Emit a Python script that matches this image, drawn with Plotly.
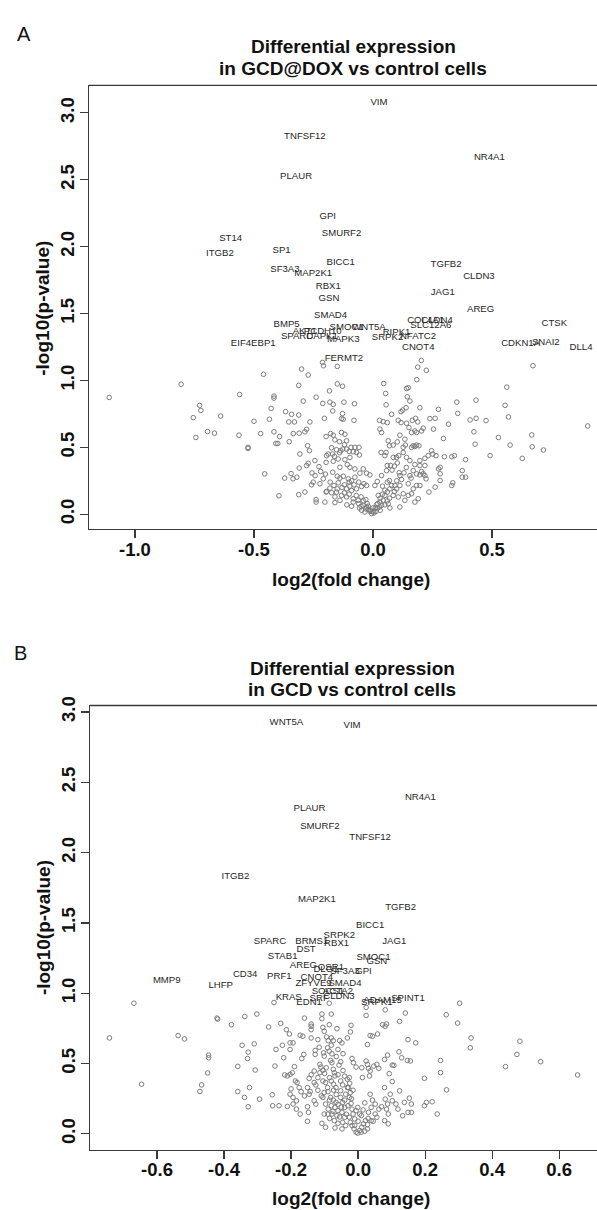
import plotly.graph_objects as go

# ---------------- Panel A data (log2 fold change, -log10 p) ----------------
A_points = [
    (0.203, 1.150), (0.188, 1.100), (0.224, 1.076), (0.184, 1.006), (-0.212, 1.135),
    (-0.208, 1.110), (-0.150, 1.105), (0.672, 1.110), (-0.460, 1.046), (-0.272, 1.041),
    (-0.300, 1.085), (-0.806, 0.972), (0.045, 0.977), (-0.312, 0.963), (-0.150, 0.974),
    (-0.128, 0.957), (-1.108, 0.873), (-0.560, 0.895), (-0.416, 0.883), (-0.416, 0.868),
    (-0.728, 0.814), (-0.723, 0.776), (-0.428, 0.791), (-0.755, 0.722), (-0.640, 0.734),
    (-0.500, 0.695), (-0.435, 0.710), (-0.367, 0.767), (-0.342, 0.747), (-0.354, 0.690),
    (-0.330, 0.690), (-0.312, 0.742), (-0.695, 0.618), (-0.666, 0.606), (-0.744, 0.574),
    (-0.563, 0.591), (-0.472, 0.603), (-0.416, 0.616), (-0.392, 0.581), (-0.408, 0.529),
    (-0.400, 0.529), (-0.352, 0.542), (-0.335, 0.603), (-0.525, 0.500), (-0.525, 0.492),
    (-0.455, 0.302), (-0.395, 0.138), (-0.336, 0.265), (-0.320, 0.277), (-0.371, 0.270),
    (-0.344, 0.304), (-0.312, 0.146), (-0.307, 0.450), (-0.310, 0.606), (-0.310, 0.345),
    (-0.183, 0.922), (0.141, 0.940), (0.148, 0.945), (0.562, 0.950),
    (-0.293, 0.846), (-0.239, 0.875), (-0.211, 0.828), (-0.181, 0.838), (-0.167, 0.821),
    (-0.122, 0.838), (-0.078, 0.826), (0.053, 0.903), (0.055, 0.818), (-0.169, 0.772),
    (0.144, 0.878), (0.155, 0.846), (0.125, 0.779), (0.118, 0.767), (0.139, 0.796),
    (0.197, 0.796), (0.275, 0.784), (0.352, 0.838), (0.433, 0.853), (0.555, 0.814),
    (0.902, 0.660), (-0.132, 0.715), (-0.125, 0.710), (-0.080, 0.702), (-0.204, 0.717),
    (-0.265, 0.690), (-0.128, 0.752), (0.027, 0.702), (0.043, 0.692), (0.060, 0.685),
    (0.078, 0.747), (0.106, 0.702), (0.118, 0.685), (0.141, 0.680), (0.151, 0.648),
    (0.165, 0.702), (0.179, 0.717), (0.188, 0.690), (0.211, 0.643), (0.239, 0.715),
    (0.261, 0.717), (0.317, 0.673), (0.356, 0.754), (0.408, 0.705), (0.433, 0.717),
    (0.424, 0.616), (0.429, 0.524), (0.475, 0.700), (0.527, 0.574), (0.569, 0.727),
    (0.576, 0.517), (0.667, 0.593), (0.669, 0.504), (0.716, 0.480), (0.627, 0.418),
    (0.492, 0.438), (-0.275, 0.512), (-0.267, 0.475), (-0.256, 0.309), (-0.243, 0.289),
    (-0.279, 0.635), (-0.286, 0.616), (-0.197, 0.581), (-0.178, 0.603), (-0.167, 0.591),
    (-0.132, 0.611), (-0.118, 0.598), (-0.160, 0.556), (-0.141, 0.542), (-0.111, 0.549),
    (-0.127, 0.487), (-0.111, 0.487), (-0.092, 0.500), (-0.076, 0.500), (-0.059, 0.500),
    (-0.083, 0.467), (-0.069, 0.462), (-0.057, 0.443), (-0.136, 0.475), (-0.153, 0.482),
    (-0.174, 0.497), (-0.188, 0.450), (-0.195, 0.438), (-0.162, 0.433), (-0.146, 0.413),
    (-0.118, 0.408), (-0.097, 0.425), (-0.167, 0.396), (-0.197, 0.388), (-0.244, 0.401),
    (-0.227, 0.356), (-0.279, 0.364), (-0.272, 0.381), (-0.108, 0.371), (-0.097, 0.351),
    (-0.139, 0.351), (-0.076, 0.339), (-0.041, 0.339), (-0.027, 0.307), (-0.013, 0.294),
    (-0.055, 0.307), (-0.169, 0.314), (-0.150, 0.284), (-0.139, 0.270), (-0.125, 0.284),
    (-0.104, 0.265), (-0.076, 0.277), (-0.038, 0.228), (-0.027, 0.215), (-0.048, 0.208),
    (-0.069, 0.190), (-0.097, 0.210), (-0.111, 0.190), (-0.090, 0.178), (-0.181, 0.195),
    (-0.164, 0.215), (-0.146, 0.235), (-0.195, 0.171), (-0.174, 0.161), (-0.153, 0.166),
    (-0.132, 0.141), (-0.111, 0.129), (-0.083, 0.116), (-0.062, 0.104), (-0.083, 0.091),
    (-0.139, 0.104), (-0.160, 0.087), (-0.202, 0.091), (-0.197, 0.166), (-0.239, 0.109),
    (-0.239, 0.091), (-0.223, 0.228), (-0.209, 0.265), (-0.251, 0.240), (-0.258, 0.220),
    (-0.286, 0.166), (-0.048, 0.030), (-0.034, 0.017), (-0.020, 0.037), (-0.013, 0.022),
    (-0.006, 0.005), (0.004, 0.010), (0.013, 0.022), (0.018, 0.042), (0.027, 0.054),
    (0.036, 0.067), (0.029, 0.091), (0.043, 0.104), (0.015, 0.072), (-0.001, 0.047),
    (-0.027, 0.054), (-0.041, 0.067), (-0.057, 0.047), (-0.024, 0.079), (0.050, 0.141),
    (0.060, 0.166), (0.071, 0.190), (0.060, 0.240), (0.069, 0.252), (0.078, 0.215),
    (0.092, 0.215), (0.099, 0.190), (0.113, 0.215), (0.085, 0.141), (0.106, 0.129),
    (0.127, 0.153), (0.148, 0.141), (0.162, 0.153), (0.169, 0.190), (0.183, 0.215),
    (0.197, 0.215), (0.190, 0.116), (0.176, 0.091), (0.134, 0.104), (0.113, 0.054),
    (0.071, 0.047), (0.064, 0.079), (0.022, 0.141), (0.008, 0.215), (0.018, 0.245),
    (0.036, 0.289), (0.057, 0.326), (0.074, 0.364), (0.102, 0.383), (0.060, 0.364),
    (0.085, 0.425), (0.050, 0.438), (0.034, 0.462), (0.141, 0.425), (0.155, 0.401),
    (0.176, 0.371), (0.197, 0.364), (0.218, 0.364), (0.211, 0.302), (0.218, 0.289),
    (0.223, 0.265), (0.204, 0.319), (0.235, 0.166), (0.261, 0.203), (0.275, 0.339),
    (0.282, 0.302), (0.282, 0.252), (0.296, 0.566), (0.254, 0.636), (0.183, 0.517),
    (0.176, 0.507), (0.193, 0.512), (0.246, 0.475), (0.265, 0.438), (0.251, 0.450),
    (0.232, 0.438), (0.218, 0.418), (0.197, 0.401), (0.300, 0.430), (0.331, 0.430),
    (0.342, 0.438), (0.331, 0.215), (0.335, 0.235), (0.375, 0.326), (0.375, 0.277),
    (0.389, 0.277), (0.389, 0.408), (0.282, 0.351), (0.113, 0.289), (0.155, 0.289),
    (0.183, 0.302), (0.197, 0.294), (0.148, 0.228), (0.169, 0.326), (0.029, 0.636),
    (0.036, 0.611), (0.064, 0.549), (0.069, 0.512), (0.085, 0.517), (0.102, 0.541),
    (0.113, 0.591), (0.134, 0.561), (0.055, 0.462), (0.099, 0.425), (0.108, 0.438),
    (0.127, 0.500), (0.136, 0.517), (0.127, 0.462), (0.162, 0.500), (0.169, 0.512),
    (0.162, 0.611), (0.176, 0.623), (0.183, 0.611), (0.204, 0.623),
    (-0.100, 0.240), (-0.090, 0.250), (-0.120, 0.220), (-0.130, 0.200), (-0.150, 0.190),
    (-0.160, 0.130), (-0.120, 0.160), (-0.100, 0.150), (-0.070, 0.140), (-0.050, 0.130),
    (-0.040, 0.100), (-0.030, 0.110), (-0.060, 0.080), (-0.050, 0.060), (-0.030, 0.040),
    (-0.020, 0.060), (-0.010, 0.030), (0.000, 0.020), (0.010, 0.050), (0.020, 0.080),
    (0.030, 0.120), (0.040, 0.150), (0.050, 0.180), (0.040, 0.210), (0.030, 0.030),
    (0.050, 0.070), (0.060, 0.100), (0.070, 0.120), (0.090, 0.170), (0.100, 0.250),
    (0.120, 0.260), (0.130, 0.310), (0.140, 0.350), (0.160, 0.270), (-0.180, 0.240),
    (-0.200, 0.300), (-0.220, 0.320), (-0.170, 0.450), (-0.140, 0.460), (-0.120, 0.520),
    (-0.100, 0.470), (-0.060, 0.240), (-0.080, 0.220), (-0.090, 0.060), (-0.110, 0.070),
    (0.080, 0.330), (0.090, 0.360), (0.110, 0.310),
]

A_genes = ["VIM", "TNFSF12", "NR4A1", "PLAUR", "GPI", "SMURF2", "ST14", "ITGB2", "SP1",
           "BICC1", "SF3A3", "MAP2K1", "RBX1", "GSN", "SMAD4", "BMP5", "AKT1", "PCDH10",
           "SPARC", "DAPK1", "MAPK3", "SMOC1", "WNT5A", "RIPK1", "SRPK2", "NFATC2", "CNOT4",
           "COL4A1", "CLDN4", "SLC12A6", "TGFB2", "CLDN3", "JAG1", "AREG", "CTSK", "CDKN1A",
           "SNAI2", "DLL4", "EIF4EBP1", "FERMT2"]
A_gene_fc = [0.025, -0.286, 0.489, -0.323, -0.190, -0.132, -0.598, -0.643, -0.384,
             -0.136, -0.370, -0.251, -0.188, -0.185, -0.178, -0.363, -0.287, -0.211,
             -0.319, -0.214, -0.125, -0.111, -0.017, 0.099, 0.061, 0.189, 0.190,
             0.221, 0.269, 0.243, 0.307, 0.445, 0.293, 0.452, 0.762, 0.620,
             0.726, 0.874, -0.503, -0.122]
A_gene_logp = [3.076, 2.819, 2.668, 2.527, 2.226, 2.099, 2.057, 1.946, 1.971,
               1.877, 1.827, 1.798, 1.699, 1.615, 1.481, 1.419, 1.365, 1.365,
               1.328, 1.330, 1.308, 1.395, 1.395, 1.360, 1.323, 1.328, 1.246,
               1.447, 1.447, 1.410, 1.864, 1.773, 1.654, 1.533, 1.422, 1.278,
               1.283, 1.244, 1.278, 1.160]

# ---------------- Panel B data ----------------
B_points = [
    (-0.742, 0.682), (-0.669, 0.929), (-0.646, 0.353), (-0.537, 0.699), (-0.518, 0.675),
    (-0.472, 0.301), (-0.467, 0.348), (-0.446, 0.560), (-0.446, 0.541), (-0.449, 0.433),
    (-0.421, 0.823), (-0.419, 0.816), (-0.378, 0.776), (-0.359, 0.480), (-0.359, 0.301),
    (-0.346, 0.630), (-0.338, 0.835), (-0.328, 0.581), (-0.330, 0.536), (-0.339, 0.259),
    (-0.324, 0.329), (-0.328, 0.193), (-0.310, 0.640), (-0.307, 0.454), (-0.302, 0.852),
    (-0.294, 0.247), (-0.267, 0.760), (-0.256, 0.278), (-0.255, 0.200), (-0.248, 0.482),
    (-0.251, 0.934), (-0.245, 0.600), (-0.236, 0.200), (-0.231, 0.786), (-0.226, 0.630),
    (-0.222, 0.541), (-0.219, 0.419), (-0.211, 0.412), (-0.214, 0.741), (-0.211, 0.195),
    (-0.205, 0.710), (-0.203, 0.647), (-0.194, 0.647), (-0.203, 0.600), (-0.203, 0.423),
    (-0.196, 0.435), (-0.203, 0.282), (-0.194, 0.259), (-0.194, 0.212), (-0.190, 0.478),
    (-0.187, 0.376), (-0.182, 0.365), (-0.184, 0.235), (-0.184, 0.176), (-0.176, 0.329),
    (-0.173, 0.701), (-0.165, 0.694), (-0.168, 0.536), (-0.162, 0.565), (-0.173, 0.141),
    (-0.160, 0.823), (-0.151, 0.329), (-0.146, 0.282), (-0.143, 0.301), (-0.151, 0.193),
    (-0.148, 0.153), (-0.146, 0.395), (-0.140, 0.682), (-0.140, 0.741), (-0.140, 0.781),
    (-0.140, 0.765), (-0.128, 0.593), (-0.128, 0.565), (-0.131, 0.447), (-0.131, 0.365),
    (-0.126, 0.348), (-0.131, 0.235), (-0.126, 0.212), (-0.151, 0.089), (-0.120, 0.670),
    (-0.116, 0.616), (-0.114, 0.494), (-0.111, 0.475), (-0.114, 0.435), (-0.105, 0.452),
    (-0.108, 0.852), (-0.108, 0.819), (-0.105, 0.757), (-0.101, 0.729), (-0.103, 0.576),
    (-0.101, 0.553), (-0.105, 0.376), (-0.097, 0.365), (-0.091, 0.329), (-0.101, 0.294),
    (-0.105, 0.259), (-0.097, 0.212), (-0.089, 0.176), (-0.101, 0.141), (-0.108, 0.075),
    (-0.097, 0.047), (-0.094, 0.689), (-0.089, 0.663), (-0.080, 0.852), (-0.086, 0.776),
    (-0.080, 0.682), (-0.074, 0.663), (-0.080, 0.630), (-0.091, 0.612), (-0.086, 0.588),
    (-0.078, 0.569), (-0.082, 0.522), (-0.078, 0.506), (-0.086, 0.929), (-0.074, 0.459),
    (-0.071, 0.435), (-0.069, 0.412), (-0.080, 0.376), (-0.073, 0.353), (-0.066, 0.329),
    (-0.073, 0.311), (-0.082, 0.259), (-0.074, 0.240), (-0.066, 0.224), (-0.080, 0.200),
    (-0.069, 0.188), (-0.060, 0.165), (-0.078, 0.141), (-0.063, 0.129), (-0.071, 0.094),
    (-0.060, 0.075), (-0.069, 0.042), (-0.063, 0.748), (-0.055, 0.663), (-0.048, 0.647),
    (-0.057, 0.489), (-0.052, 0.513), (-0.052, 0.376), (-0.046, 0.348), (-0.052, 0.306),
    (-0.052, 0.259), (-0.046, 0.224), (-0.040, 0.188), (-0.048, 0.153), (-0.040, 0.118),
    (-0.046, 0.082), (-0.037, 0.059), (-0.048, 0.035), (-0.037, 0.282), (-0.032, 0.329),
    (-0.032, 0.388), (-0.026, 0.400), (-0.032, 0.682), (-0.026, 0.118), (-0.023, 0.082),
    (-0.018, 0.059), (-0.012, 0.035), (-0.006, 0.012), (-0.001, 0.005), (0.005, 0.024),
    (0.011, 0.047), (0.016, 0.071), (0.022, 0.094), (0.028, 0.035), (0.020, 0.019),
    (0.009, 0.012), (-0.026, 0.259), (-0.021, 0.216), (-0.018, 0.176), (-0.015, 0.141),
    (-0.010, 0.106), (-0.029, 0.329), (-0.023, 0.294), (-0.021, 0.772), (-0.023, 0.725),
    (-0.018, 0.536), (-0.014, 0.506), (-0.006, 0.475), (-0.001, 0.188), (0.005, 0.141),
    (-0.006, 0.165), (0.011, 0.470), (0.013, 0.400), (0.024, 0.518), (0.028, 0.494),
    (0.028, 0.635), (0.024, 0.842), (0.024, 0.899), (0.031, 0.466), (0.036, 0.447),
    (0.034, 0.412), (0.036, 0.282), (0.043, 0.240), (0.051, 0.212), (0.039, 0.188),
    (0.031, 0.153), (0.051, 0.141), (0.062, 0.176), (0.070, 0.193), (0.056, 0.118),
    (0.039, 0.094), (0.028, 0.066), (0.036, 0.699), (0.043, 0.694), (0.058, 0.710),
    (0.047, 0.482), (0.056, 0.494), (0.062, 0.466), (0.079, 0.529), (0.088, 0.560),
    (0.081, 0.882), (0.073, 0.776), (0.081, 0.765), (0.085, 0.781), (0.102, 0.489),
    (0.093, 0.428), (0.102, 0.372), (0.079, 0.329), (0.081, 0.247), (0.088, 0.212),
    (0.085, 0.176), (0.090, 0.141), (0.079, 0.094), (0.090, 0.071), (0.096, 0.282),
    (0.102, 0.235), (0.113, 0.212), (0.119, 0.176), (0.124, 0.800), (0.122, 0.583),
    (0.130, 0.541), (0.107, 0.487), (0.124, 0.306), (0.138, 0.224), (0.149, 0.153),
    (0.133, 0.129), (0.141, 0.859), (0.147, 0.522), (0.156, 0.518), (0.149, 0.670),
    (0.172, 0.647), (0.159, 0.212), (0.153, 0.254), (0.159, 0.153), (0.198, 0.395),
    (0.198, 0.200), (0.204, 0.224), (0.221, 0.228), (0.236, 0.141), (0.246, 0.522),
    (0.246, 0.435), (0.263, 0.847), (0.264, 0.313), (0.297, 0.788), (0.303, 0.929),
    (0.337, 0.682), (0.335, 0.612), (0.440, 0.478), (0.474, 0.565), (0.483, 0.659),
    (0.545, 0.513), (0.655, 0.419),
    (-0.120, 0.310), (-0.110, 0.270), (-0.090, 0.300), (-0.085, 0.240), (-0.090, 0.140),
    (-0.085, 0.110), (-0.075, 0.160), (-0.065, 0.280), (-0.060, 0.210), (-0.055, 0.120),
    (-0.050, 0.190), (-0.040, 0.240), (-0.035, 0.140), (-0.030, 0.200), (-0.020, 0.250),
    (-0.015, 0.310), (-0.010, 0.060), (0.000, 0.090), (0.010, 0.130), (0.015, 0.170),
    (0.020, 0.220), (0.030, 0.110), (0.045, 0.090), (-0.140, 0.420), (-0.120, 0.400),
    (-0.100, 0.430), (-0.095, 0.470), (-0.085, 0.400), (-0.060, 0.420), (-0.045, 0.450),
    (-0.040, 0.410), (-0.025, 0.360), (-0.160, 0.270), (-0.170, 0.300), (-0.200, 0.320),
    (-0.065, 0.550), (-0.060, 0.600), (-0.045, 0.570),
]

B_genes = ["WNT5A", "VIM", "NR4A1", "PLAUR", "SMURF2", "TNFSF12", "ITGB2", "MAP2K1",
           "TGFB2", "BICC1", "SRPK2", "SPARC", "BRMS1", "RBX1", "JAG1", "DST", "STAB1",
           "SMOC1", "GSN", "AREG", "DLG1", "OSR1", "SF3A3", "GPI", "CNOT4", "CD34", "PRF1",
           "MMP9", "LHFP", "ZFYVE9", "SMAD4", "SOCS1", "ACTA2", "KRAS", "EDN1", "SRF",
           "CLDN3", "SPINT1", "ADAM15", "SRPK1"]
B_gene_fc = [-0.214, -0.018, 0.186, -0.145, -0.114, 0.036, -0.366, -0.123,
             0.127, 0.036, -0.056, -0.263, -0.138, -0.064, 0.108, -0.155, -0.225,
             0.046, 0.056, -0.163, -0.096, -0.081, -0.039, 0.016, -0.123, -0.337, -0.235,
             -0.571, -0.410, -0.133, -0.039, -0.090, -0.060, -0.207, -0.146, -0.116,
             -0.057, 0.149, 0.073, 0.056]
B_gene_logp = [2.924, 2.900, 2.392, 2.312, 2.183, 2.105, 1.830, 1.665,
               1.611, 1.482, 1.411, 1.369, 1.369, 1.352, 1.369, 1.310, 1.263,
               1.251, 1.228, 1.195, 1.171, 1.180, 1.153, 1.157, 1.110, 1.129, 1.115,
               1.089, 1.054, 1.070, 1.070, 1.010, 1.010, 0.969, 0.936, 0.964,
               0.976, 0.964, 0.946, 0.936]

A_xticks = [-1.0, -0.5, 0.0, 0.5]
B_xticks = [-0.6, -0.4, -0.2, 0.0, 0.2, 0.4, 0.6]
y_ticks = [0.0, 0.5, 1.0, 1.5, 2.0, 2.5, 3.0]

A_title = ["Differential expression", "in GCD@DOX vs control cells"]
B_title = ["Differential expression", "in GCD vs control cells"]
x_title = "log2(fold change)"
y_title = "-log10(p-value)"

# ---------------- layout helpers ----------------
W, H = 597, 1210
FONT = "Liberation Sans, Arial, Helvetica, sans-serif"


def fx(p):
    return p / W


def fy(p):
    return 1 - p / H


marker_style = dict(symbol="circle-open", size=4.6, color="#7c7c7c", line=dict(width=1, color="#7c7c7c"))
label_font = dict(family=FONT, size=9.6, color="#262626")

fig = go.Figure()
fig.add_trace(go.Scatter(x=[p[0] for p in A_points], y=[p[1] for p in A_points], mode="markers",
                         marker=marker_style, xaxis="x", yaxis="y", hoverinfo="skip", showlegend=False))
fig.add_trace(go.Scatter(x=A_gene_fc, y=A_gene_logp, text=A_genes, mode="text", textposition="middle center",
                         textfont=label_font, xaxis="x", yaxis="y", hoverinfo="skip", showlegend=False))
fig.add_trace(go.Scatter(x=[p[0] for p in B_points], y=[p[1] for p in B_points], mode="markers",
                         marker=marker_style, xaxis="x2", yaxis="y2", hoverinfo="skip", showlegend=False))
fig.add_trace(go.Scatter(x=B_gene_fc, y=B_gene_logp, text=B_genes, mode="text", textposition="middle center",
                         textfont=label_font, xaxis="x2", yaxis="y2", hoverinfo="skip", showlegend=False))

AXC = "#3a3a3a"
tickfont = dict(family=FONT, size=18.5, color="#111", weight="bold")
base_axis = dict(showgrid=False, zeroline=False, showline=True, linecolor=AXC, linewidth=1.3,
                 ticks="outside", ticklen=8, tickwidth=1.2, tickcolor=AXC, tickfont=tickfont,
                 fixedrange=True)

A_top, A_bot, B_top, B_bot = 77, 524, 701.7, 1149.3

fig.update_layout(
    width=W, height=H, margin=dict(l=0, r=0, t=0, b=0),
    paper_bgcolor="white", plot_bgcolor="white", showlegend=False,
    xaxis=dict(base_axis, domain=[fx(89), 1.0], range=[-1.193, 0.941], anchor="y",
               tickvals=A_xticks, ticktext=["%.1f" % v for v in A_xticks], ticklabelstandoff=-5),
    yaxis=dict(base_axis, domain=[fy(A_bot), fy(A_top)], range=[-0.111, 3.205], anchor="x",
               tickvals=y_ticks, ticktext=["%.1f" % v for v in y_ticks], tickangle=-90,
               ticklabelstandoff=-2),
    xaxis2=dict(base_axis, domain=[fx(90), 1.0], range=[-0.800, 0.713], anchor="y2",
                tickvals=B_xticks, ticktext=["%.1f" % v for v in B_xticks], ticklabelstandoff=-5),
    yaxis2=dict(base_axis, domain=[fy(B_bot), fy(B_top)], range=[-0.113, 3.046], anchor="x2",
                tickvals=y_ticks, ticktext=["%.1f" % v for v in y_ticks], tickangle=-90,
                ticklabelstandoff=-2),
)

# top border of each plot box (right side falls outside the picture)
shapes = [
    dict(type="line", xref="paper", yref="paper", x0=fx(89), x1=1.0, y0=fy(A_top), y1=fy(A_top),
         line=dict(color=AXC, width=1.3)),
    dict(type="line", xref="paper", yref="paper", x0=fx(90), x1=1.0, y0=fy(B_top), y1=fy(B_top),
         line=dict(color=AXC, width=1.3)),
]

ann = []


def add_text(text, x, y, size, bold=True, angle=0):
    ann.append(dict(text=text, x=fx(x), y=fy(y), xref="paper", yref="paper", showarrow=False,
                    xanchor="center", yanchor="middle", textangle=angle,
                    font=dict(family=FONT, size=size, color="#111", weight="bold" if bold else "normal")))


# Panel A text
add_text("A", 24, 25, 20, bold=False)
add_text(A_title[0], 353, 38, 19)
add_text(A_title[1], 353, 60, 19)
add_text(x_title, 351, 575, 19)
add_text(y_title, 43, 302, 19, angle=-90)
# Panel B text
add_text("B", 20, 649, 20, bold=False)
add_text(B_title[0], 352, 664, 19)
add_text(B_title[1], 352, 686, 19)
add_text(x_title, 351, 1198, 19)
add_text(y_title, 43, 926, 19, angle=-90)

fig.update_layout(annotations=ann, shapes=shapes)
fig.write_html("out.html", config={"displayModeBar": False, "staticPlot": True},
               post_script="document.body.style.margin='0';document.body.style.padding='0';"
                           "document.body.style.overflow='hidden';")
